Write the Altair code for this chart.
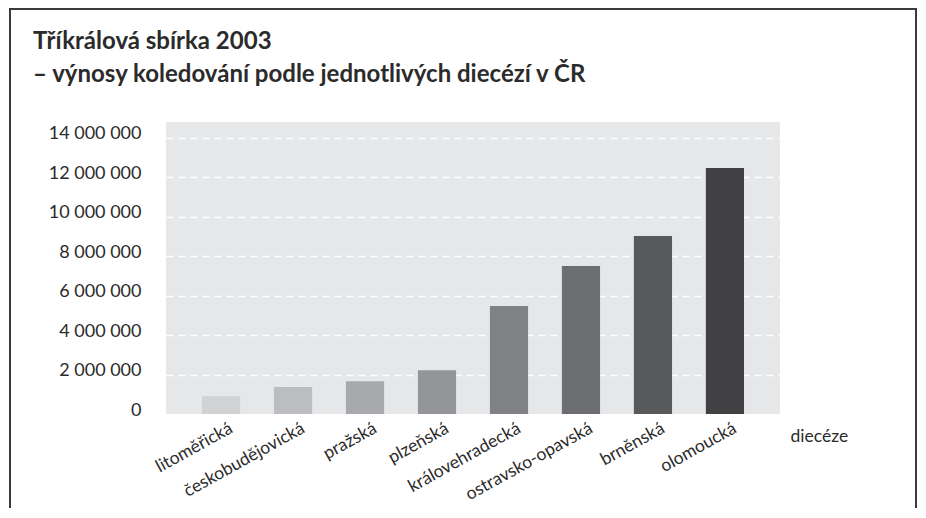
import altair as alt
import pandas as pd

dioceses = ["litoměřická", "českobudějovická", "pražská", "plzeňská",
            "královehradecká", "ostravsko-opavská", "brněnská", "olomoucká"]
proceeds = [900000, 1370000, 1660000, 2220000, 5470000, 7500000, 9020000, 12470000]
bar_colors = ["#d1d2d4", "#bcbdc0", "#a7a9ac", "#939598",
              "#808285", "#6d6e71", "#58595b", "#414042"]
y_ticks = [0, 2000000, 4000000, 6000000, 8000000, 10000000, 12000000, 14000000]
title_lines = ["Tříkrálová sbírka 2003",
               "– výnosy koledování podle jednotlivých diecézí v ČR"]
x_title = "diecéze"

df = pd.DataFrame({"dieceze": dioceses, "vynos": proceeds})

FONT = "Lato"
TXT = "#2b2b2b"

bars = alt.Chart(df).mark_bar().encode(
    x=alt.X(
        "dieceze:N",
        sort=dioceses,
        scale=alt.Scale(paddingInner=0.47, paddingOuter=0.5),
        axis=alt.Axis(
            title=x_title,
            labelAngle=-29,
            labelAlign="right",
            labelBaseline="top",
            labelPadding=5,
            labelOffset=6,
            labelFont=FONT,
            labelFontSize=17.5,
            labelColor=TXT,
            domain=False,
            ticks=False,
            grid=False,
            titleX=624,
            titleY=27,
            titleAlign="left",
            titleBaseline="alphabetic",
            titleFont=FONT,
            titleFontSize=17.5,
            titleFontWeight="normal",
            titleColor=TXT,
        ),
    ),
    y=alt.Y(
        "vynos:Q",
        scale=alt.Scale(domain=[0, 14800000], nice=False),
        axis=alt.Axis(
            title=None,
            values=y_ticks,
            labelExpr="replace(replace(format(datum.value, ','), ',', ' '), ',', ' ')",
            labelFont=FONT,
            labelFontSize=18,
            labelColor=TXT,
            labelPadding=25,
            labelOffset=-4,
            domain=False,
            ticks=False,
            gridDash=[7, 5],
            gridWidth=1.6,
            gridColor={"condition": {"test": "datum.value === 0", "value": "transparent"},
                       "value": "#ffffff"},
        ),
    ),
    color=alt.Color("dieceze:N", sort=dioceses,
                    scale=alt.Scale(domain=dioceses, range=bar_colors), legend=None),
)

frame = alt.Chart(pd.DataFrame({"f": [0]})).mark_rect(
    fillOpacity=0, stroke="#3a3a3a", strokeWidth=2
).encode(
    x=alt.value(-156), x2=alt.value(750), y=alt.value(-113), y2=alt.value(420)
)

title1 = alt.Chart(pd.DataFrame({"t": [title_lines[0]]})).mark_text(
    font=FONT, fontSize=24, fontWeight="bold", color=TXT, align="left", baseline="alphabetic"
).encode(text="t:N", x=alt.value(-133), y=alt.value(-73))

title2 = alt.Chart(pd.DataFrame({"t": [title_lines[1]]})).mark_text(
    font=FONT, fontSize=24, fontWeight="bold", color=TXT, align="left", baseline="alphabetic"
).encode(text="t:N", x=alt.value(-133), y=alt.value(-40))

chart = alt.layer(bars, frame, title1, title2).properties(
    width=614,
    height=292,
    padding={"left": 158, "top": 114, "right": 138, "bottom": 94},
    autosize=alt.AutoSizeParams(type="none"),
).configure_view(fill="#e6e7e8", strokeWidth=0)

chart.save("out.html", embed_options={"renderer": "svg", "actions": False})
